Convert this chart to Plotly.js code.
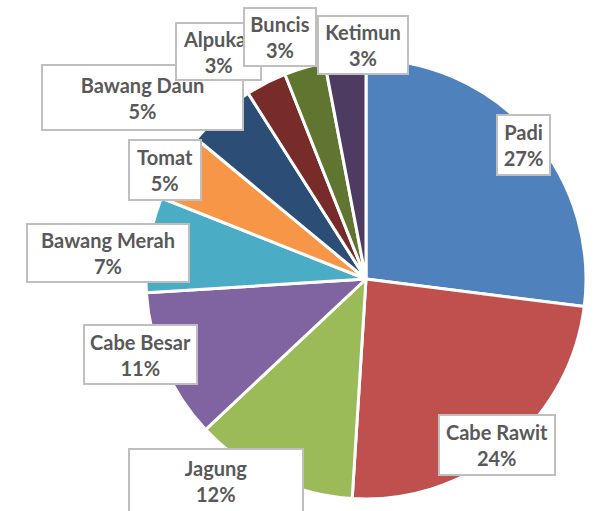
<!DOCTYPE html>
<html>
<head>
<meta charset="utf-8">
<script src="https://cdn.plot.ly/plotly-3.0.1.min.js"></script>
<style>html,body{margin:0;padding:0;background:#fff;}#chart{width:597px;height:511px;}</style>
</head>
<body>
<div id="chart"></div>
<script>
var categories = ["Padi", "Cabe Rawit", "Jagung", "Cabe Besar", "Bawang Merah", "Tomat", "Bawang Daun", "Alpukat", "Buncis", "Ketimun"];
var shares = [27, 24, 12, 11, 7, 5, 5, 3, 3, 3];
var sliceColors = ["#4F81BD", "#C0504D", "#9BBB59", "#8064A2", "#4BACC6", "#F79646", "#2C4D75", "#772C2A", "#5F7530", "#4D3B62"];
var percentLabels = ["27%", "24%", "12%", "11%", "7%", "5%", "5%", "3%", "3%", "3%"];

// label box placement (pixel centre x, centre y, width, height), drawn in this order
var boxes = {
  "Padi":         [523.5, 145, 55, 62],
  "Cabe Rawit":   [497, 445, 118, 62],
  "Jagung":       [216, 481, 176, 66],
  "Cabe Besar":   [140.5, 354.5, 115, 61],
  "Bawang Merah": [108, 253, 164, 60],
  "Tomat":        [165, 170, 74, 62],
  "Bawang Daun":  [142.5, 97.5, 203, 67],
  "Alpukat":      [218.5, 51.5, 87, 59],
  "Buncis":       [280, 37, 74, 60],
  "Ketimun":      [363, 45, 92, 60]
};

var W = 597, H = 511;
var cx = 366, cy = 279, R = 220;

var trace = {
  type: "pie",
  labels: categories,
  values: shares,
  sort: false,
  direction: "clockwise",
  rotation: 0,
  textinfo: "none",
  hoverinfo: "label+percent",
  marker: {colors: sliceColors, line: {color: "#FFFFFF", width: 3}},
  domain: {x: [(cx - R) / W, (cx + R) / W], y: [(H - cy - R) / H, (H - cy + R) / H]},
  showlegend: false
};

var bw = 2;
var annotations = categories.map(function (c, i) {
  var b = boxes[c];
  return {
    xref: "paper", yref: "paper",
    x: b[0] / W, y: 1 - b[1] / H,
    xanchor: "center", yanchor: "middle",
    text: c + "<br>" + percentLabels[i],
    showarrow: false,
    align: "center",
    valign: "middle",
    width: b[2] - 2 * bw,
    height: b[3] - 2 * bw,
    bgcolor: "#FFFFFF",
    bordercolor: "#BFBFBF",
    borderwidth: bw,
    borderpad: 0,
    font: {family: "Lato, 'Open Sans', sans-serif", size: 20, color: "#595959", weight: "bold"}
  };
});

var layout = {
  width: W, height: H,
  margin: {l: 0, r: 0, t: 0, b: 0},
  paper_bgcolor: "#FFFFFF",
  plot_bgcolor: "#FFFFFF",
  annotations: annotations
};

Plotly.newPlot("chart", [trace], layout, {displayModeBar: false, staticPlot: true});
</script>
</body>
</html>
